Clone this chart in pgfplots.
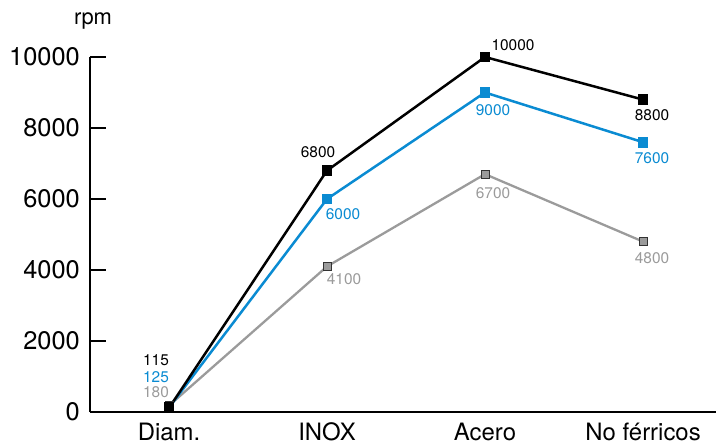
\documentclass[border=0pt]{standalone}
\usepackage{fontspec}
\setmainfont{TeX Gyre Heros}
\usepackage{pgfplots}
\pgfplotsset{compat=1.18}
\definecolor{cblue}{RGB}{10,139,210}
\definecolor{cgray}{RGB}{155,155,155}
\begin{document}
\begin{tikzpicture}
\path[use as bounding box] (-90bp,-36bp) rectangle (627bp,412bp);
\begin{axis}[
  at={(0,0)}, anchor=south west,
  scale only axis, width=626bp, height=355bp,
  xmin=-0.5, xmax=3.462, ymin=0, ymax=10000,
  axis x line=bottom, axis y line=left,
  axis line style={-, line width=1.3bp},
  scaled y ticks=false,
  /pgf/number format/assume math mode=true,
  /pgf/number format/1000 sep={},
  xtick={0,1,2,3}, xticklabels={Diam.,INOX,Acero,No férricos},
  x tick style={draw=none},
  xticklabel style={font=\fontsize{24}{28}\selectfont, anchor=base, inner sep=0pt, yshift=-28bp},
  extra x ticks={0.5,1.5,2.5}, extra x tick labels={},
  extra x tick style={major tick length=9bp, tick style={draw=black, line width=1.2bp}},
  ytick={0,2000,4000,6000,8000,10000},
  y tick style={line width=1.2bp, black},
  yticklabel style={font=\fontsize{25.5}{30}\selectfont, anchor=east, inner sep=0pt, xshift=-10bp},
  major tick length=15.5bp,
  tick align=inside,
  clip=false,
  every node near coord/.append style={font=\fontsize{15.5}{18}\selectfont, anchor=center, inner sep=0pt},
]
% gray
\addplot[cgray, line width=2.3bp, mark=square*, mark size=4.2bp,
  mark options={fill=cgray, draw=black!80, line width=0.6bp},
  nodes near coords, point meta=explicit symbolic,
  visualization depends on={\thisrow{dx} \as \dx},
  visualization depends on={\thisrow{dy} \as \dy},
  every node near coord/.append style={text=cgray, xshift=\dx bp, yshift=\dy bp}]
  table[x=x, y=y, meta=lab] {
x y lab dx dy
0 180 180 -13 13
1 4100 4100 17 -13
2 6700 6700 8 -19
3 4800 4800 9 -17
};
% blue
\addplot[cblue, line width=2.5bp, mark=square*, mark size=4.2bp,
  mark options={fill=cblue, draw=cblue},
  nodes near coords, point meta=explicit symbolic,
  visualization depends on={\thisrow{dx} \as \dx},
  visualization depends on={\thisrow{dy} \as \dy},
  every node near coord/.append style={text=cblue, xshift=\dx bp, yshift=\dy bp}]
  table[x=x, y=y, meta=lab] {
x y lab dx dy
0 125 125 -13 30
1 6000 6000 16 -15
2 9000 9000 8 -18
3 7600 7600 9 -16
};
% black
\addplot[black, line width=2.5bp, mark=square*, mark size=4.2bp,
  mark options={fill=black, draw=black},
  nodes near coords, point meta=explicit symbolic,
  visualization depends on={\thisrow{dx} \as \dx},
  visualization depends on={\thisrow{dy} \as \dy},
  every node near coord/.append style={text=black, xshift=\dx bp, yshift=\dy bp}]
  table[x=x, y=y, meta=lab] {
x y lab dx dy
0 115 115 -13 48
1 6800 6800 -9 18
2 10000 10000 28 12
3 8800 8800 9 -16
};
\node[anchor=base, font=\fontsize{22}{26}\selectfont, inner sep=0pt] at (rel axis cs:0,1) [xshift=3bp, yshift=32bp] {rpm};
\end{axis}
\end{tikzpicture}
\end{document}
